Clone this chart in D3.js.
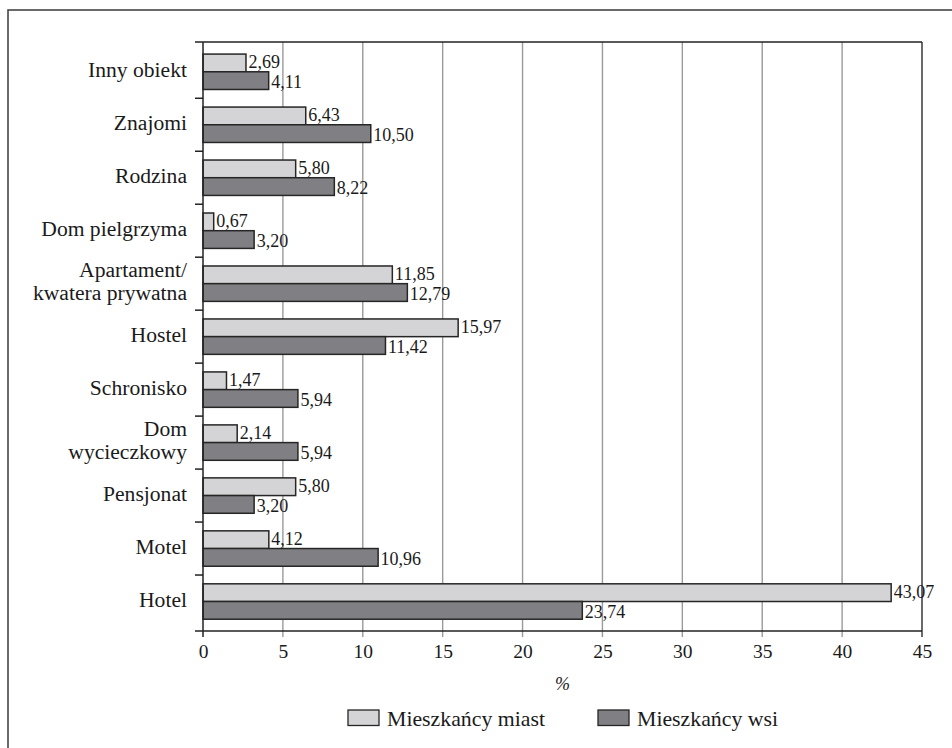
<!DOCTYPE html>
<html>
<head>
<meta charset="utf-8">
<script src="https://cdn.jsdelivr.net/npm/d3@7"></script>
</head>
<body style="margin:0;padding:0;background:#fff">
<svg id="chart" width="952" height="748" style="display:block"></svg>
<script>
// Accommodation types (top to bottom); "\n" splits a label over two lines
const categories = [
  "Inny obiekt", "Znajomi", "Rodzina", "Dom pielgrzyma",
  "Apartament/\nkwatera prywatna", "Hostel", "Schronisko",
  "Dom\nwycieczkowy", "Pensjonat", "Motel", "Hotel"
];
// Share of respondents, %
const cityValues    = [2.69, 6.43, 5.80, 0.67, 11.85, 15.97, 1.47, 2.14, 5.80, 4.12, 43.07];
const villageValues = [4.11, 10.50, 8.22, 3.20, 12.79, 11.42, 5.94, 5.94, 3.20, 10.96, 23.74];
const seriesNames = ["Mieszkańcy miast", "Mieszkańcy wsi"];
const xTicks = [0, 5, 10, 15, 20, 25, 30, 35, 40, 45];

const colors = ["#d4d4d6", "#808084"];
const FONT = '"Liberation Serif"';
const TEXT = "#1a1a1a";
const svg = d3.select("#chart").style("font-family", FONT);

// Outer frame (only left and top edges fall inside the page)
svg.append("rect")
  .attr("x", 8).attr("y", 10).attr("width", 960).attr("height", 760)
  .attr("fill", "none").attr("stroke", "#3a3a3a").attr("stroke-width", 1.5);

const plot = { left: 203, right: 922, top: 42, bottom: 631 };

const x = d3.scaleLinear().domain([0, 45]).range([plot.left, plot.right]);
const y = d3.scaleBand().domain(categories).range([45.3, 628]).padding(0);
const barH = 17.7;

const fmt = d3.formatLocale({ decimal: ",", thousands: " ", grouping: [3], currency: ["", " zł"] }).format(".2f");

// Vertical gridlines (extend a little below the axis as tick marks)
svg.append("g").selectAll("line")
  .data(xTicks.filter(t => t > 0 && t < 45))
  .join("line")
  .attr("x1", d => x(d)).attr("x2", d => x(d))
  .attr("y1", plot.top).attr("y2", plot.bottom + 6)
  .attr("stroke", "#9a9a9a").attr("stroke-width", 1.4);

// Right edge of plot area
svg.append("line")
  .attr("x1", x(45)).attr("x2", x(45))
  .attr("y1", plot.top).attr("y2", plot.bottom + 6)
  .attr("stroke", "#6a6a6a").attr("stroke-width", 2);

// Top edge of plot area
svg.append("line")
  .attr("x1", plot.left).attr("x2", x(45))
  .attr("y1", plot.top).attr("y2", plot.top)
  .attr("stroke", "#222").attr("stroke-width", 1.5);

// Bars
const groups = svg.append("g").selectAll("g")
  .data(categories)
  .join("g")
  .attr("transform", d => `translate(0,${y(d) + y.bandwidth() / 2})`);

[cityValues, villageValues].forEach((vals, si) => {
  groups.append("rect")
    .attr("x", x(0))
    .attr("y", si === 0 ? -barH : 0)
    .attr("width", (d, i) => x(vals[i]) - x(0))
    .attr("height", barH)
    .attr("fill", colors[si])
    .attr("stroke", "#262626")
    .attr("stroke-width", 1.5);
  groups.append("text")
    .attr("x", (d, i) => x(vals[i]) + 2.5)
    .attr("y", si === 0 ? -barH / 2 + 5 : barH / 2 + 7.5)
    .style("font-family", FONT)
    .style("font-size", "18px")
    .attr("fill", TEXT)
    .text((d, i) => fmt(vals[i]));
});

// Category labels
groups.append("text")
  .attr("text-anchor", "end")
  .style("font-family", FONT)
  .style("font-size", "21.6px")
  .attr("fill", TEXT)
  .each(function (d) {
    const lines = d.split("\n");
    const lh = 23.5;
    const t = d3.select(this);
    lines.forEach((ln, k) => {
      t.append("tspan")
        .attr("x", 187)
        .attr("y", 5 + (k - (lines.length - 1) / 2) * lh)
        .text(ln);
    });
  });

// Left-side tick marks at category boundaries
const bounds = [plot.top].concat(categories.slice(1).map(c => y(c)));
svg.append("g").selectAll("line")
  .data(bounds)
  .join("line")
  .attr("x1", plot.left - 8).attr("x2", plot.left)
  .attr("y1", d => d).attr("y2", d => d)
  .attr("stroke", "#222").attr("stroke-width", 1.5);

// Vertical axis line
svg.append("line")
  .attr("x1", plot.left).attr("x2", plot.left)
  .attr("y1", plot.top).attr("y2", plot.bottom + 6)
  .attr("stroke", "#222").attr("stroke-width", 1.5);

// Bottom axis
const xAxis = d3.axisBottom(x).tickValues(xTicks).tickSize(0).tickPadding(13.5).tickFormat(d3.format("d"));
const gx = svg.append("g")
  .attr("transform", `translate(0,${plot.bottom})`)
  .call(xAxis);
gx.attr("font-family", null).attr("font-size", null);
gx.select(".domain").remove();
gx.selectAll("text")
  .style("font-family", FONT)
  .style("font-size", "19.5px")
  .attr("fill", TEXT);
svg.append("line")
  .attr("x1", plot.left - 8).attr("x2", x(45))
  .attr("y1", plot.bottom).attr("y2", plot.bottom)
  .attr("stroke", "#222").attr("stroke-width", 1.5);

// Axis title
svg.append("text")
  .attr("x", x(22.5)).attr("y", 690)
  .attr("text-anchor", "middle")
  .style("font-family", FONT)
  .style("font-size", "18px")
  .style("font-style", "italic")
  .attr("fill", TEXT)
  .text("%");

// Legend
const legendX = [348, 598];
const legend = svg.append("g").selectAll("g")
  .data(seriesNames)
  .join("g")
  .attr("transform", (d, i) => `translate(${legendX[i]},710)`);
legend.append("rect")
  .attr("width", 31).attr("height", 15.5)
  .attr("fill", (d, i) => colors[i])
  .attr("stroke", "#262626").attr("stroke-width", 1.3);
legend.append("text")
  .attr("x", 39).attr("y", 15.5)
  .style("font-family", FONT)
  .style("font-size", "21.8px")
  .attr("fill", TEXT)
  .text(d => d);
</script>
</body>
</html>
